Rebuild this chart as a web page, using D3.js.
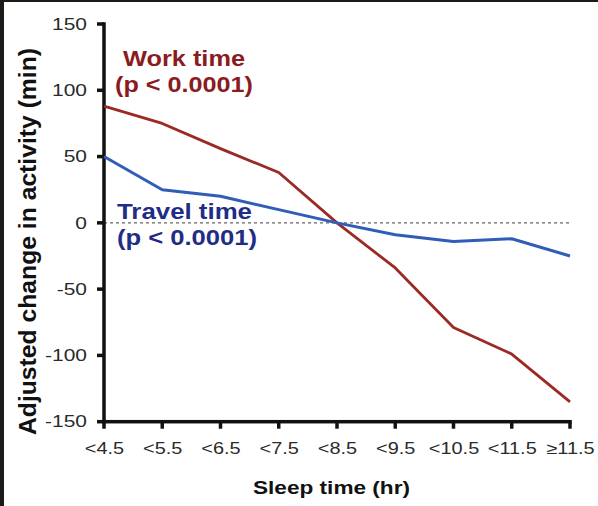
<!DOCTYPE html>
<html><head><meta charset="utf-8">
<script src="https://cdn.jsdelivr.net/npm/d3@7"></script>
<style>body{margin:0;background:#fff;}svg{display:block;}</style>
</head><body>
<script>
const categories = ["<4.5","<5.5","<6.5","<7.5","<8.5","<9.5","<10.5","<11.5","\u226511.5"];
const workTime   = [88, 75, 56, 38, 0, -34, -79, -99, -135];
const travelTime = [50, 25, 20, 10, 0, -9, -14, -12, -25];
const yTicks = [-150, -100, -50, 0, 50, 100, 150];

const W = 598, H = 506;
const svg = d3.select("body").append("svg").attr("width", W).attr("height", H);
svg.append("rect").attr("width", W).attr("height", H).attr("fill", "#fff");
svg.append("rect").attr("x",0).attr("y",0).attr("width",4).attr("height",H).attr("fill","#1e1a17");
svg.append("rect").attr("x",0).attr("y",0).attr("width",W).attr("height",2).attr("fill","#1e1a17");

const x = d3.scalePoint().domain(categories).range([104, 570]);
const y = d3.scaleLinear().domain([-150, 150]).range([421.7, 24]);
const font = "Arial, 'Liberation Sans', sans-serif";
const STRETCH = 1.27;
const AX = "#111", AXW = 3.5, TK = 7;

function stretch(sel, k) {
  sel.each(function() {
    const w = this.getComputedTextLength();
    d3.select(this).attr("textLength", w * k).attr("lengthAdjust", "spacingAndGlyphs");
  });
}

// zero reference line
svg.append("line").attr("x1", 104).attr("x2", 572).attr("y1", y(0)).attr("y2", y(0))
  .attr("stroke", "#666").attr("stroke-width", 1.2).attr("stroke-dasharray", "3,3");

// Axis labels via d3 axes
const yAxis = svg.append("g").attr("transform", "translate(104,0)")
  .call(d3.axisLeft(y).tickValues(yTicks).tickSize(TK).tickPadding(10).tickFormat(d => String(d)));
yAxis.select(".domain").remove();
yAxis.selectAll(".tick line").remove();
yAxis.selectAll(".tick text").attr("font-family", font).attr("font-size", 16.5).attr("fill", "#2a2a2a");
stretch(yAxis.selectAll(".tick text"), STRETCH);

const xAxis = svg.append("g").attr("transform", `translate(0,${y(-150)})`)
  .call(d3.axisBottom(x).tickSize(TK).tickPadding(14));
xAxis.select(".domain").remove();
xAxis.selectAll(".tick line").remove();
xAxis.selectAll(".tick text").attr("font-family", font).attr("font-size", 15.7).attr("fill", "#2a2a2a");
stretch(xAxis.selectAll(".tick text"), STRETCH);

// axis lines and ticks as filled rects
const x0 = x.range()[0], x1 = x.range()[1], yb = y(-150), yt = y(150);
const axes = svg.append("g").attr("fill", AX);
axes.append("rect").attr("x", x0 - AXW / 2).attr("y", yt - AXW / 2).attr("width", AXW).attr("height", yb - yt + AXW);
axes.append("rect").attr("x", x0 - AXW / 2).attr("y", yb - AXW / 2).attr("width", x1 - x0 + AXW).attr("height", AXW);
axes.selectAll("rect.yt").data(yTicks).join("rect").attr("class", "yt")
  .attr("x", x0 - TK).attr("y", d => y(d) - AXW / 2).attr("width", TK).attr("height", AXW);
axes.selectAll("rect.xt").data(categories).join("rect").attr("class", "xt")
  .attr("x", d => x(d) - AXW / 2).attr("y", yb).attr("width", AXW).attr("height", TK);

// Lines
const line = d3.line().x((d, i) => x(categories[i])).y(d => y(d));
svg.append("path").datum(workTime).attr("d", line).attr("fill", "none")
  .attr("stroke", "#9b2a24").attr("stroke-width", 2.8).attr("stroke-linejoin", "round");
svg.append("path").datum(travelTime).attr("d", line).attr("fill", "none")
  .attr("stroke", "#2f5db8").attr("stroke-width", 3).attr("stroke-linejoin", "round");

// Annotations
function label(txt, cx, by, color, len) {
  svg.append("text").attr("x", cx).attr("y", by).attr("text-anchor", "middle")
    .attr("font-family", font).attr("font-weight", "bold").attr("font-size", 22.5)
    .attr("fill", color).attr("textLength", len).attr("lengthAdjust", "spacingAndGlyphs").text(txt);
}
label("Work time", 184, 66, "#8a1c1f", 122);
label("(p < 0.0001)", 184, 92, "#8a1c1f", 138);
label("Travel time", 184.5, 219, "#1f2d86", 135);
label("(p < 0.0001)", 187, 245, "#1f2d86", 140);

// Axis titles
svg.append("text").attr("transform", "translate(36,241.5) rotate(-90)").attr("text-anchor", "middle")
  .attr("font-family", font).attr("font-weight", "bold").attr("font-size", 23.5).attr("fill", "#111")
  .attr("textLength", 387).attr("lengthAdjust", "spacingAndGlyphs")
  .text("Adjusted change in activity (min)");
svg.append("text").attr("x", 331.5).attr("y", 494).attr("text-anchor", "middle")
  .attr("font-family", font).attr("font-weight", "bold").attr("font-size", 19).attr("fill", "#111")
  .attr("textLength", 157).attr("lengthAdjust", "spacingAndGlyphs")
  .text("Sleep time (hr)");
</script>
</body></html>
